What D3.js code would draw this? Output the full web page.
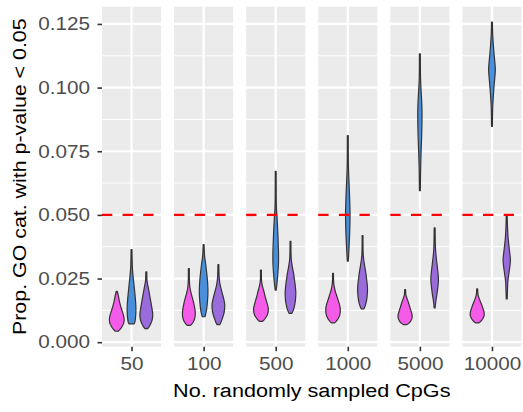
<!DOCTYPE html>
<html><head><meta charset="utf-8">
<script src="https://cdn.jsdelivr.net/npm/d3@7"></script>
<style>body{margin:0;background:#fff}svg{display:block}</style>
</head><body><svg id="c" width="523" height="412"></svg>
<script>
// ---------------- data ----------------
const sampleSizes = ["50", "100", "500", "1000", "5000", "10000"];
const groups = ["A", "B", "C"];
const groupColors = ["#F55BE9", "#4A8FDB", "#9A6BDB"];
const yTicks = [0, 0.025, 0.05, 0.075, 0.1, 0.125];
const yMinorTicks = [0.0125, 0.0375, 0.0625, 0.0875, 0.1125];
const threshold = 0.05;
const xTitle = "No. randomly sampled CpGs";
const yTitle = "Prop. GO cat. with p-value < 0.05";

// violin outlines per sample size: [proportion, relative density]
const profilesA = [
  [[0.0043,1.2],[0.0050,3.2],[0.0058,4.8],[0.0070,6.8],[0.0085,7.8],[0.0100,7.4],[0.0120,5.8],[0.0140,4.0],[0.0160,2.5],[0.0180,1.4],[0.0200,0.0]],
  [[0.0066,1.2],[0.0072,3.0],[0.0080,4.6],[0.0092,6.0],[0.0108,6.7],[0.0125,6.5],[0.0150,5.2],[0.0170,3.8],[0.0190,2.2],[0.0210,0.9],[0.0235,0.2],[0.0289,0.0]],
  [[0.0082,1.2],[0.0088,3.0],[0.0098,5.2],[0.0112,7.2],[0.0130,7.8],[0.0145,7.0],[0.0165,5.4],[0.0185,3.8],[0.0205,2.4],[0.0220,1.2],[0.0240,0.2],[0.0283,0.0]],
  [[0.0076,1.2],[0.0082,3.0],[0.0092,5.2],[0.0108,7.2],[0.0128,7.7],[0.0145,7.0],[0.0165,5.2],[0.0185,3.4],[0.0200,2.0],[0.0215,1.0],[0.0235,0.2],[0.0270,0.0]],
  [[0.0069,1.2],[0.0073,3.2],[0.0082,5.6],[0.0096,7.4],[0.0108,7.3],[0.0122,6.2],[0.0140,4.6],[0.0158,3.0],[0.0172,1.6],[0.0185,0.4],[0.0207,0.0]],
  [[0.0076,1.2],[0.0080,3.0],[0.0090,5.4],[0.0104,7.3],[0.0118,7.2],[0.0132,6.0],[0.0148,4.4],[0.0162,2.8],[0.0175,1.4],[0.0188,0.4],[0.0210,0.0]]
];
const profilesB = [
  [[0.0072,2.4],[0.0080,3.3],[0.0095,3.9],[0.0120,4.4],[0.0145,4.3],[0.0170,3.8],[0.0200,3.0],[0.0230,2.1],[0.0260,1.2],[0.0290,0.5],[0.0320,0.2],[0.0364,0.0]],
  [[0.0100,1.0],[0.0110,1.8],[0.0130,2.9],[0.0160,3.8],[0.0190,4.3],[0.0220,4.2],[0.0250,3.6],[0.0280,2.7],[0.0310,1.7],[0.0335,0.7],[0.0360,0.2],[0.0383,0.0]],
  [[0.0204,0.0],[0.0220,0.6],[0.0260,1.7],[0.0300,2.5],[0.0335,2.7],[0.0370,2.5],[0.0410,2.1],[0.0450,1.6],[0.0490,1.0],[0.0520,0.4],[0.0560,0.1],[0.0671,0.0]],
  [[0.0318,0.0],[0.0340,0.4],[0.0380,1.0],[0.0420,1.5],[0.0470,1.9],[0.0510,2.0],[0.0550,1.7],[0.0600,1.2],[0.0650,0.6],[0.0690,0.2],[0.0811,0.0]],
  [[0.0595,0.0],[0.0680,0.3],[0.0740,0.8],[0.0800,1.4],[0.0860,1.8],[0.0900,1.9],[0.0940,1.6],[0.0980,1.0],[0.1020,0.4],[0.1060,0.1],[0.1133,0.0]],
  [[0.0848,0.0],[0.0920,0.3],[0.0960,0.9],[0.1000,1.7],[0.1040,2.7],[0.1070,3.3],[0.1100,2.7],[0.1130,1.9],[0.1170,1.0],[0.1210,0.3],[0.1257,0.0]]
];
const profilesC = [
  [[0.0053,1.0],[0.0058,2.2],[0.0070,4.2],[0.0090,6.2],[0.0110,6.7],[0.0130,6.0],[0.0160,4.5],[0.0190,3.0],[0.0220,1.4],[0.0240,0.4],[0.0276,0.0]],
  [[0.0069,1.0],[0.0075,2.0],[0.0090,3.6],[0.0110,5.5],[0.0130,6.5],[0.0150,6.6],[0.0170,5.5],[0.0190,4.0],[0.0210,2.5],[0.0230,1.2],[0.0260,0.3],[0.0305,0.0]],
  [[0.0113,1.0],[0.0120,2.0],[0.0135,3.5],[0.0155,4.7],[0.0175,5.3],[0.0195,5.5],[0.0215,5.1],[0.0240,4.2],[0.0270,3.0],[0.0300,1.4],[0.0330,0.3],[0.0396,0.0]],
  [[0.0131,1.0],[0.0140,2.2],[0.0160,3.8],[0.0180,4.6],[0.0200,5.0],[0.0220,4.9],[0.0250,4.0],[0.0280,2.8],[0.0310,1.4],[0.0340,0.3],[0.0419,0.0]],
  [[0.0135,0.0],[0.0160,0.8],[0.0190,2.1],[0.0220,3.2],[0.0240,3.7],[0.0260,3.6],[0.0290,2.7],[0.0320,1.7],[0.0350,0.8],[0.0380,0.3],[0.0449,0.0]],
  [[0.0170,0.0],[0.0200,0.3],[0.0240,0.8],[0.0270,1.9],[0.0300,3.1],[0.0325,3.6],[0.0350,2.9],[0.0380,1.9],[0.0410,1.0],[0.0450,0.4],[0.0501,0.0]]
];
const profiles = [profilesA, profilesB, profilesC];

// ---------------- layout ----------------
const FONT = "'Liberation Sans', Arial, Helvetica, sans-serif";
const STRETCH = 1.15;
const plotL = 102, plotR = 521.5, plotT = 6.7, plotB = 346.7;
const svg = d3.select("#c");

const allVals = profiles.flat(2).map(p => p[0]);
const vMin = d3.min(allVals), vMax = d3.max(allVals);
const pad = (vMax - vMin) * 0.05;
const y = d3.scaleLinear().domain([vMin - pad, vMax + pad]).range([plotB, plotT]);

const facet = d3.scaleBand().domain(sampleSizes).range([plotL, plotR]).paddingInner(13 / 72);
const bw = facet.bandwidth();
const xin = d3.scaleLinear().domain([0.4, 1.6]).range([0, bw]);
const dodge = d3.scaleBand().domain(groups).range([xin(0.55), xin(1.45)]);
const maxDens = d3.max(profiles.flat(2).map(p => p[1]));
const wScale = d3.scaleLinear().domain([0, maxDens]).range([0.45, dodge.bandwidth() / 2]);

sampleSizes.forEach((s, si) => {
  const g = svg.append("g").attr("transform", `translate(${facet(s)},0)`);
  g.append("rect").attr("x", 0).attr("y", plotT).attr("width", bw).attr("height", plotB - plotT).attr("fill", "#EBEBEB");
  g.selectAll(".minor").data(yMinorTicks).join("line")
    .attr("x1", 0).attr("x2", bw).attr("y1", d => y(d)).attr("y2", d => y(d))
    .attr("stroke", "#fff").attr("stroke-width", 1);
  g.selectAll(".major").data(yTicks).join("line")
    .attr("x1", 0).attr("x2", bw).attr("y1", d => y(d)).attr("y2", d => y(d))
    .attr("stroke", "#fff").attr("stroke-width", 2.2);
  g.append("line").attr("x1", xin(1)).attr("x2", xin(1)).attr("y1", plotT).attr("y2", plotB)
    .attr("stroke", "#fff").attr("stroke-width", 2.2);

  groups.forEach((grp, gi) => {
    const cx = dodge(grp) + dodge.bandwidth() / 2;
    const prof = profiles[gi][si];
    const area = d3.area()
      .y(d => y(d[0]))
      .x0(d => cx - wScale(d[1]))
      .x1(d => cx + wScale(d[1]))
      .curve(d3.curveCatmullRom);
    g.append("path").attr("d", area(prof))
      .attr("fill", groupColors[gi]).attr("stroke", "#333333").attr("stroke-width", 1.2)
      .attr("stroke-linejoin", "round");
  });

  g.append("line").attr("x1", 0).attr("x2", bw).attr("y1", y(threshold)).attr("y2", y(threshold))
    .attr("stroke", "#FF0000").attr("stroke-width", 2.4).attr("stroke-dasharray", "10.3,10.3");

  const xp = d3.scalePoint().domain([s]).range([0, bw]).padding(0.5);
  const ax = g.append("g").attr("transform", `translate(0,${plotB})`)
    .call(d3.axisBottom(xp).tickSize(4.5).tickPadding(6));
  ax.select(".domain").remove();
  ax.selectAll("line").attr("stroke", "#333333").attr("stroke-width", 1.6);
  ax.selectAll("text").attr("fill", "#4D4D4D").style("font-family", FONT).style("font-size", "18px")
    .attr("transform", `scale(${STRETCH},1)`);
});

const yax = svg.append("g").attr("transform", `translate(${plotL},0)`)
  .call(d3.axisLeft(y).tickValues(yTicks).tickFormat(d3.format(".3f")).tickSize(4.5).tickPadding(5.9));
yax.select(".domain").remove();
yax.selectAll("line").attr("stroke", "#333333").attr("stroke-width", 1.6);
yax.selectAll("text").attr("fill", "#4D4D4D").style("font-family", FONT).style("font-size", "18px")
  .attr("transform", `scale(${STRETCH},1)`);

svg.append("text").attr("transform", `translate(${(plotL + plotR) / 2},397) scale(${STRETCH},1)`)
  .attr("text-anchor", "middle").style("font-family", FONT).style("font-size", "18.8px").attr("fill", "#000")
  .text(xTitle);
svg.append("text").attr("transform", `translate(26,${(plotT + plotB) / 2}) rotate(-90) scale(${STRETCH},1)`)
  .attr("text-anchor", "middle").style("font-family", FONT).style("font-size", "18.6px").attr("fill", "#000")
  .text(yTitle);
</script></body></html>
